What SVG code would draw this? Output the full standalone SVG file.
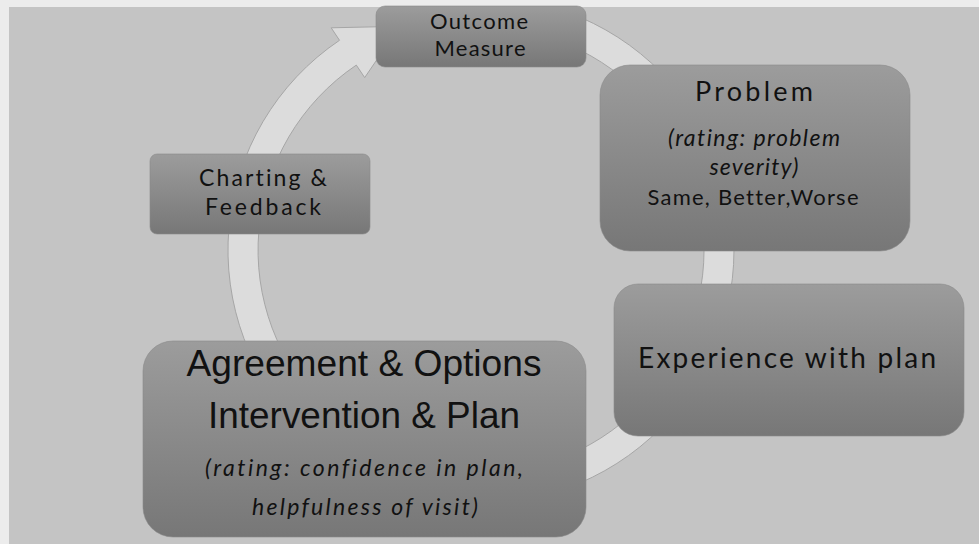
<svg xmlns="http://www.w3.org/2000/svg" width="979" height="544" viewBox="0 0 979 544">
<defs>
<linearGradient id="g" x1="0" y1="0" x2="0" y2="1">
<stop offset="0" stop-color="#9c9c9c"/>
<stop offset="1" stop-color="#777777"/>
</linearGradient>
<style>
.box{fill:url(#g);stroke:#8a8a8a;stroke-width:0.6}
.t{font-family:Lato,"Open Sans",sans-serif;fill:#111;text-anchor:middle;font-variant-ligatures:none;font-feature-settings:"liga" 0,"clig" 0}
.a{font-family:"Liberation Sans",Arial,sans-serif;fill:#111;text-anchor:middle;font-size:37px}
.i{font-style:italic}
.ring{fill:#dcdcdc;stroke:#a6a6a6;stroke-width:1}
</style>
</defs>
<rect x="0" y="0" width="979" height="544" fill="#ececec"/>
<rect x="9" y="7" width="970" height="537" fill="#c4c4c4"/>
<g id="connectors">
<path class="ring" d="M567.5,12.3 A253,253 0 1 1 339.5,40.3 L331.2,27.8 L399.6,26.3 L364.7,77.6 L356.3,65.1 A223,223 0 1 0 557.3,40.4 Z"/>
</g>
<g id="outcome">
<rect class="box" x="376" y="6" width="210" height="61" rx="9"/>
<text class="t" x="479" y="29" font-size="22" textLength="98" lengthAdjust="spacing">Outcome</text>
<text class="t" x="480" y="56" font-size="22" textLength="91" lengthAdjust="spacing">Measure</text>
</g>
<g id="problem">
<rect class="box" x="600" y="65" width="310" height="186" rx="30"/>
<text class="t" x="754" y="101" font-size="27" textLength="118" lengthAdjust="spacing">Problem</text>
<text class="t i" x="754" y="146" font-size="23" textLength="172" lengthAdjust="spacing">(rating: problem</text>
<text class="t i" x="754" y="175" font-size="23" textLength="89" lengthAdjust="spacing">severity)</text>
<text class="t" x="753" y="205" font-size="22" textLength="211" lengthAdjust="spacing">Same, Better,Worse</text>
</g>
<g id="experience">
<rect class="box" x="614" y="284" width="350" height="152" rx="24"/>
<text class="t" x="787" y="368" font-size="28" textLength="298" lengthAdjust="spacing">Experience with plan</text>
</g>
<g id="agreement">
<rect class="box" x="143" y="341" width="443" height="196" rx="30"/>
<text class="a" x="364" y="376" textLength="355" lengthAdjust="spacingAndGlyphs">Agreement &amp; Options</text>
<text class="a" x="364" y="428" textLength="312" lengthAdjust="spacingAndGlyphs">Intervention &amp; Plan</text>
<text class="t i" x="364" y="476" font-size="23" textLength="318" lengthAdjust="spacing">(rating: confidence in plan,</text>
<text class="t i" x="365" y="515" font-size="23" textLength="226" lengthAdjust="spacing">helpfulness of visit)</text>
</g>
<g id="charting">
<rect class="box" x="150" y="154" width="220" height="80" rx="7"/>
<text class="t" x="263" y="186" font-size="23" textLength="128" lengthAdjust="spacing">Charting &amp;</text>
<text class="t" x="263" y="215" font-size="23" textLength="116" lengthAdjust="spacing">Feedback</text>
</g>
</svg>
